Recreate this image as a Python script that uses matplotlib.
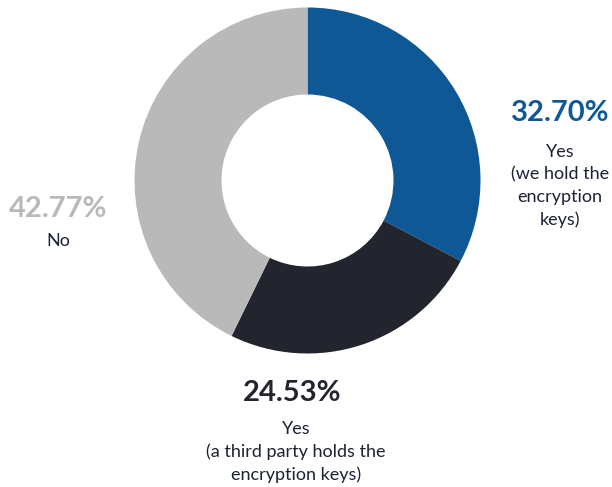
import matplotlib
matplotlib.use("Agg")
import matplotlib.pyplot as plt

# Share of respondents by who holds the encryption keys
categories = ["Yes\n(we hold the\nencryption\nkeys)",
              "Yes\n(a third party holds the\nencryption keys)",
              "No"]
values = [32.70, 24.53, 42.77]
colors = ["#0E5896", "#23252E", "#B9B9B9"]
pct_colors = ["#0E5896", "#23252E", "#B9B9B9"]
label_color = "#1B2233"

W, H = 612, 487
fig = plt.figure(figsize=(W / 100, H / 100), dpi=100)
ax = fig.add_axes([0, 0, 1, 1])

cx, cy, r_out, r_in = 307.5, 180.5, 173, 86
ax.pie(values, colors=colors, startangle=90, counterclock=False,
       radius=r_out, center=(cx, H - cy),
       wedgeprops=dict(width=r_out - r_in, linewidth=0))
ax.set_xlim(0, W)
ax.set_ylim(0, H)
ax.set_aspect("equal")
ax.axis("off")

font = "Lato"
# (percent x, percent y, label x, label y) measured from the top edge
positions = [(560, 113, 560, 186),
             (292, 393, 296, 452),
             (58, 209, 58, 241)]

for val, cat, pc, (px, py, lx, ly) in zip(values, categories, pct_colors, positions):
    ax.text(px, H - py, f"{val:.2f}%", ha="center", va="center", color=pc,
            fontsize=21, fontweight="bold", family=font)
    ax.text(lx, H - ly, cat, ha="center", va="center", color=label_color,
            fontsize=13, family=font, linespacing=1.5, multialignment="center")

fig.savefig("out.png", dpi=100)
